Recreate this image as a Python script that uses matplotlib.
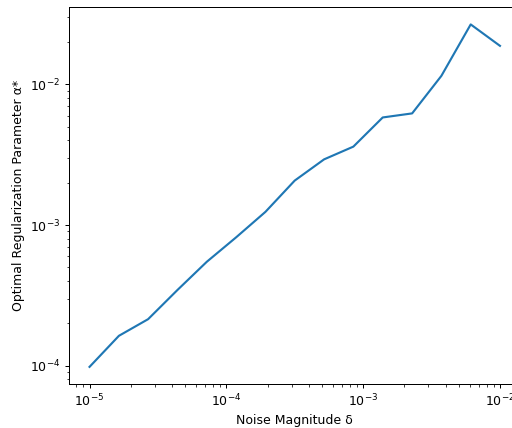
import numpy as np
import matplotlib
matplotlib.use("Agg")
import matplotlib.pyplot as plt

# noise levels (15 log-spaced points between 1e-5 and 1e-2)
delta = [1.0e-5, 1.64e-5, 2.68e-5, 4.39e-5, 7.20e-5, 1.18e-4, 1.93e-4, 3.16e-4,
         5.18e-4, 8.48e-4, 1.39e-3, 2.28e-3, 3.73e-3, 6.11e-3, 1.0e-2]
# optimal alpha
alpha_opt = [9.8e-5, 1.63e-4, 2.14e-4, 3.45e-4, 5.48e-4, 8.18e-4, 1.24e-3, 2.07e-3,
             2.93e-3, 3.61e-3, 5.82e-3, 6.22e-3, 1.15e-2, 2.67e-2, 1.88e-2]

# original looks like a slightly downscaled render, so use dpi 90
fig = plt.figure(figsize=(512 / 90, 428 / 90), dpi=90)
# axes run past the right edge, like the cropped original
ax = fig.add_axes([69 / 512, 44 / 428, 451.5 / 512, 376.7 / 428])
ax.loglog(delta, alpha_opt, color='#1f77b4', linewidth=1.7)
ax.set_xlabel('Noise Magnitude δ')
ax.set_ylabel('Optimal Regularization Parameter α*')

fig.savefig('out.png', dpi=90)
